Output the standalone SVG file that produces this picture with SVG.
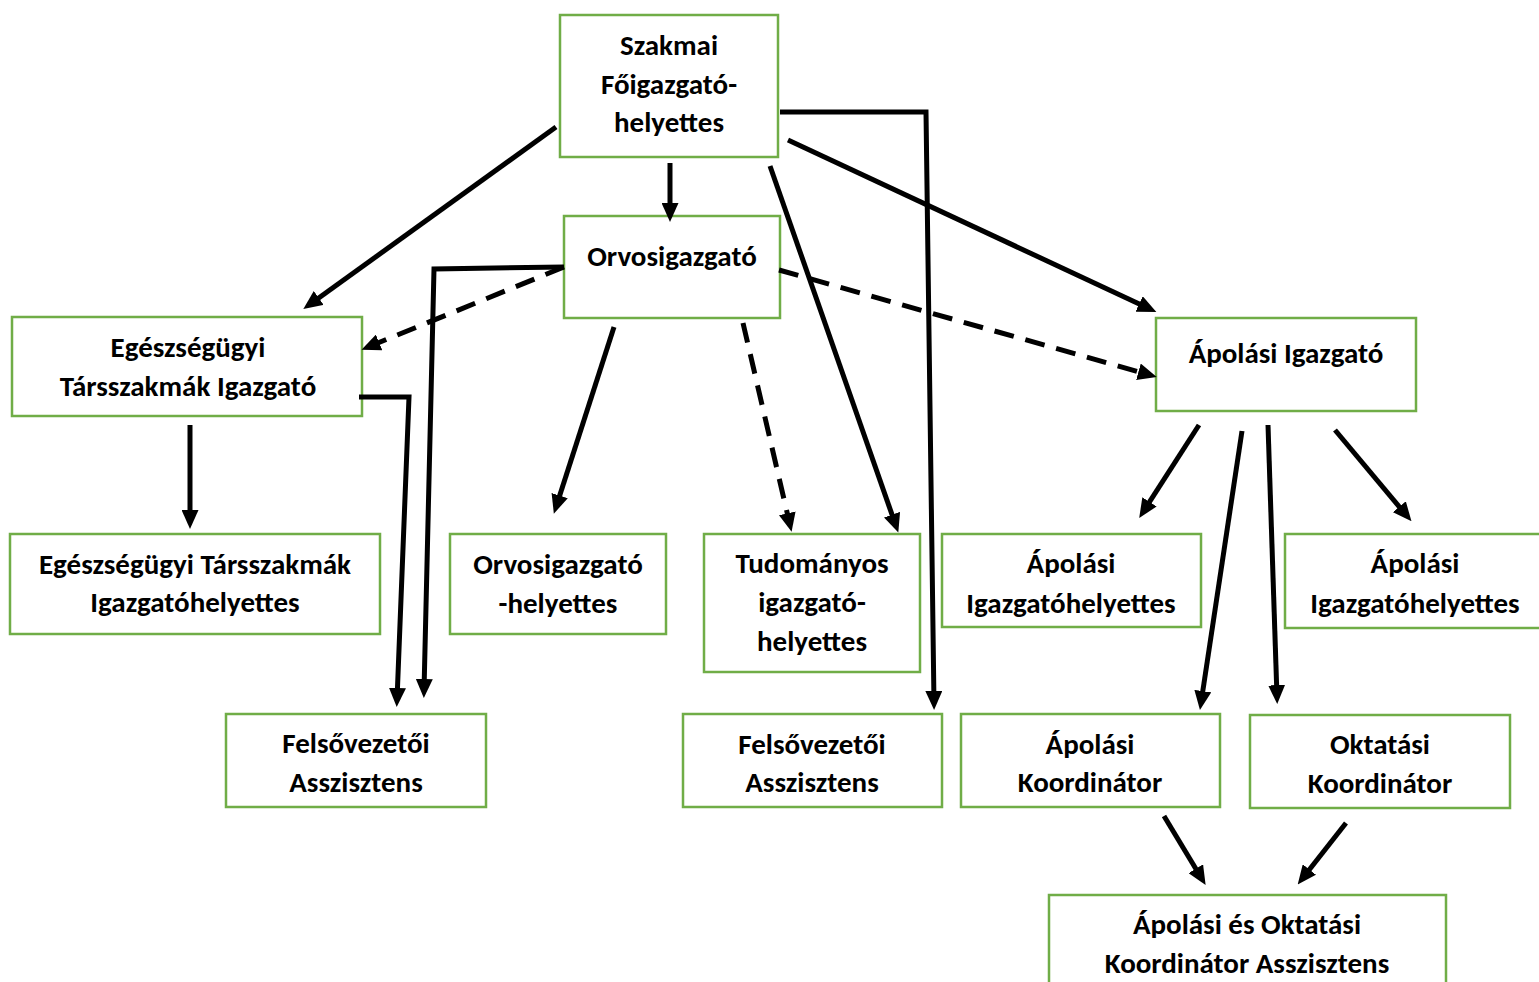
<svg xmlns="http://www.w3.org/2000/svg" width="1539" height="982" viewBox="0 0 1539 982">
<style>
.box{fill:#fff;stroke:#70AD47;stroke-width:2.5}
.t{font-family:Carlito,Lato,"Liberation Sans",sans-serif;font-weight:bold;font-size:29px;fill:#000;text-anchor:middle;dominant-baseline:central}
.c{fill:none;stroke:#000;stroke-width:5}
.a{marker-end:url(#ah)}
.d{stroke-dasharray:20 12}
</style>
<defs>
<marker id="ah" markerUnits="userSpaceOnUse" markerWidth="19" markerHeight="17" refX="12" refY="8.5" orient="auto">
<path d="M0,0 L19,8.5 L0,17 z" fill="#000"/>
</marker>
</defs>
<rect width="1539" height="982" fill="#fff"/>
<g id="nodes">
<g id="n-szakmai"><rect class="box" x="560" y="15" width="218" height="142"/><text class="t" x="669" y="45">Szakmai</text><text class="t" x="669" y="84">Főigazgató-</text><text class="t" x="669" y="122">helyettes</text></g>
<g id="n-orvosigazgato"><rect class="box" x="564" y="216" width="216" height="102"/><text class="t" x="672" y="256">Orvosigazgató</text></g>
<g id="n-eg-igazgato"><rect class="box" x="12" y="317" width="350" height="99"/><text class="t" x="188" y="347">Egészségügyi</text><text class="t" x="188" y="386">Társszakmák Igazgató</text></g>
<g id="n-eg-helyettes"><rect class="box" x="10" y="534" width="370" height="100"/><text class="t" x="195" y="564">Egészségügyi Társszakmák</text><text class="t" x="195" y="602">Igazgatóhelyettes</text></g>
<g id="n-orvos-helyettes"><rect class="box" x="450" y="534" width="216" height="100"/><text class="t" x="558" y="564">Orvosigazgató</text><text class="t" x="558" y="603">-helyettes</text></g>
<g id="n-tudomanyos"><rect class="box" x="704" y="534" width="216" height="138"/><text class="t" x="812" y="563">Tudományos</text><text class="t" x="812" y="602">igazgató-</text><text class="t" x="812" y="641">helyettes</text></g>
<g id="n-apolasi-igazgato"><rect class="box" x="1156" y="318" width="260" height="93"/><text class="t" x="1286" y="353">Ápolási Igazgató</text></g>
<g id="n-apolasi-helyettes-1"><rect class="box" x="942" y="534" width="259" height="93"/><text class="t" x="1071" y="563">Ápolási</text><text class="t" x="1071" y="603">Igazgatóhelyettes</text></g>
<g id="n-apolasi-helyettes-2"><rect class="box" x="1285" y="534" width="260" height="94"/><text class="t" x="1415" y="563">Ápolási</text><text class="t" x="1415" y="603">Igazgatóhelyettes</text></g>
<g id="n-felso-1"><rect class="box" x="226" y="714" width="260" height="93"/><text class="t" x="356" y="743">Felsővezetői</text><text class="t" x="356" y="782">Asszisztens</text></g>
<g id="n-felso-2"><rect class="box" x="683" y="714" width="259" height="93"/><text class="t" x="812" y="744">Felsővezetői</text><text class="t" x="812" y="782">Asszisztens</text></g>
<g id="n-apolasi-koord"><rect class="box" x="961" y="714" width="259" height="93"/><text class="t" x="1090" y="744">Ápolási</text><text class="t" x="1090" y="782">Koordinátor</text></g>
<g id="n-oktatasi-koord"><rect class="box" x="1250" y="715" width="260" height="93"/><text class="t" x="1380" y="744">Oktatási</text><text class="t" x="1380" y="783">Koordinátor</text></g>
<g id="n-asszisztens"><rect class="box" x="1049" y="895" width="397" height="120"/><text class="t" x="1247" y="924">Ápolási és Oktatási</text><text class="t" x="1247" y="963">Koordinátor Asszisztens</text></g>
</g>
<g id="connectors">
<line class="c a" x1="556" y1="127" x2="309" y2="305"/>
<line class="c a" x1="670" y1="163" x2="670" y2="215"/>
<polyline class="c a" points="780,112 926,112 934,703"/>
<line class="c a" x1="788" y1="140" x2="1150" y2="309"/>
<line class="c a" x1="770" y1="166" x2="896" y2="526"/>
<line class="c a d" x1="564" y1="267" x2="368" y2="347"/>
<polyline class="c a" points="564,267 434,269 424,691"/>
<polyline class="c a" points="359,397 409,397 397,700"/>
<line class="c a" x1="614" y1="327" x2="556" y2="507"/>
<line class="c a d" x1="743" y1="323" x2="790" y2="525"/>
<line class="c a d" x1="779" y1="270" x2="1150" y2="375"/>
<line class="c a" x1="190" y1="425" x2="190" y2="522"/>
<line class="c a" x1="1199" y1="425" x2="1143" y2="512"/>
<line class="c a" x1="1242" y1="431" x2="1201" y2="703"/>
<line class="c a" x1="1268" y1="425" x2="1277" y2="697"/>
<line class="c a" x1="1335" y1="430" x2="1407" y2="516"/>
<line class="c a" x1="1164" y1="816" x2="1202" y2="879"/>
<line class="c a" x1="1346" y1="823" x2="1302" y2="879"/>
</g>
</svg>
